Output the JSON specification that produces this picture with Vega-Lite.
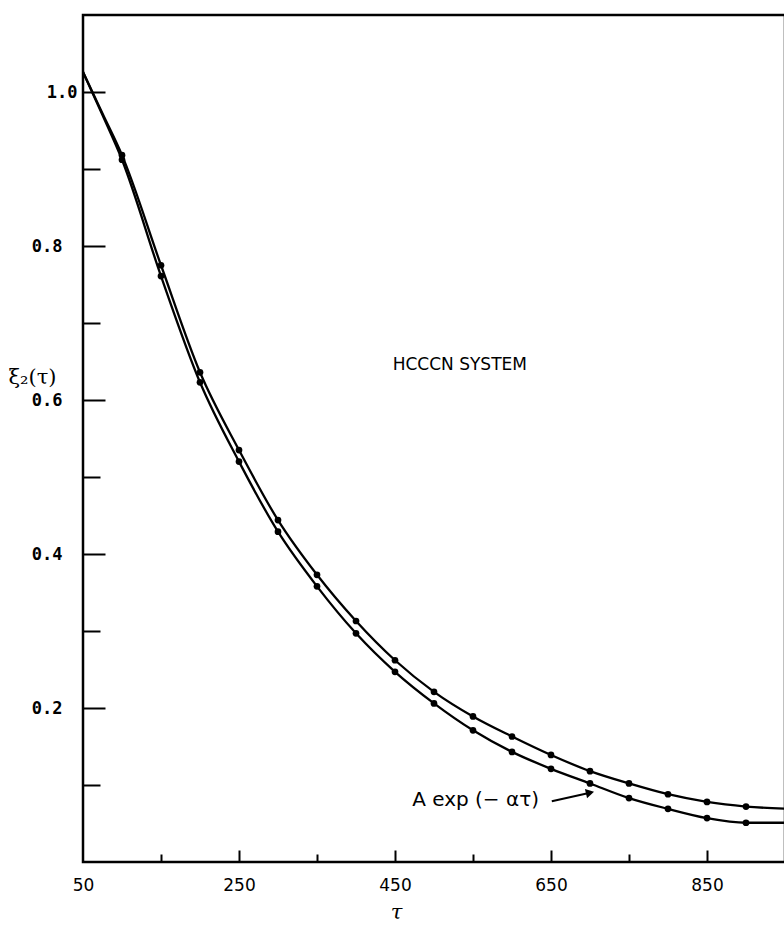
{
  "$schema": "https://vega.github.io/schema/vega-lite/v6.json",
  "width": 702,
  "height": 847,
  "autosize": {"type": "none"},
  "padding": {"left": 83, "top": 15, "right": 0, "bottom": 63},
  "background": "white",
  "config": {
    "view": {"stroke": "black", "strokeWidth": 2.5},
    "axis": {"grid": false, "domain": false, "tickColor": "black", "labelColor": "black", "titleColor": "black", "tickWidth": 2}
  },
  "datasets": {
    "curves": [
      {"series": "upper", "tau": 50, "value": 1.026},
      {"series": "upper", "tau": 75, "value": 0.972},
      {"series": "upper", "tau": 100, "value": 0.918},
      {"series": "upper", "tau": 150, "value": 0.775},
      {"series": "upper", "tau": 200, "value": 0.636},
      {"series": "upper", "tau": 250, "value": 0.535},
      {"series": "upper", "tau": 300, "value": 0.444},
      {"series": "upper", "tau": 350, "value": 0.373},
      {"series": "upper", "tau": 400, "value": 0.313},
      {"series": "upper", "tau": 450, "value": 0.262},
      {"series": "upper", "tau": 500, "value": 0.221},
      {"series": "upper", "tau": 550, "value": 0.189},
      {"series": "upper", "tau": 600, "value": 0.163},
      {"series": "upper", "tau": 650, "value": 0.139},
      {"series": "upper", "tau": 700, "value": 0.118},
      {"series": "upper", "tau": 750, "value": 0.102},
      {"series": "upper", "tau": 800, "value": 0.088},
      {"series": "upper", "tau": 850, "value": 0.078},
      {"series": "upper", "tau": 900, "value": 0.072},
      {"series": "upper", "tau": 955, "value": 0.069},
      {"series": "lower", "tau": 50, "value": 1.026},
      {"series": "lower", "tau": 75, "value": 0.970},
      {"series": "lower", "tau": 100, "value": 0.912},
      {"series": "lower", "tau": 150, "value": 0.761},
      {"series": "lower", "tau": 200, "value": 0.623},
      {"series": "lower", "tau": 250, "value": 0.520},
      {"series": "lower", "tau": 300, "value": 0.429},
      {"series": "lower", "tau": 350, "value": 0.358},
      {"series": "lower", "tau": 400, "value": 0.297},
      {"series": "lower", "tau": 450, "value": 0.247},
      {"series": "lower", "tau": 500, "value": 0.206},
      {"series": "lower", "tau": 550, "value": 0.171},
      {"series": "lower", "tau": 600, "value": 0.143},
      {"series": "lower", "tau": 650, "value": 0.121},
      {"series": "lower", "tau": 700, "value": 0.102},
      {"series": "lower", "tau": 750, "value": 0.083},
      {"series": "lower", "tau": 800, "value": 0.069},
      {"series": "lower", "tau": 850, "value": 0.057},
      {"series": "lower", "tau": 900, "value": 0.051},
      {"series": "lower", "tau": 955, "value": 0.051}
    ],
    "notes": [
      {"tau": 447, "value": 0.639, "label": "HCCCN SYSTEM", "size": 17},
      {"tau": 472, "value": 0.073, "label": "A exp (− ατ)", "size": 20}
    ],
    "arrow": [
      {"tau": 651, "value": 0.079, "tau2": 700, "value2": 0.09}
    ]
  },
  "resolve": {"axis": {"x": "independent", "y": "independent"}},
  "layer": [
    {
      "data": {"name": "curves"},
      "mark": {"type": "line", "interpolate": "monotone", "color": "black", "strokeWidth": 2.3, "clip": true},
      "encoding": {
        "x": {
          "field": "tau", "type": "quantitative",
          "scale": {"domain": [50, 950], "nice": false, "zero": false},
          "axis": {
            "orient": "bottom", "values": [50, 250, 450, 650, 850], "ticks": false,
            "labelFont": "DejaVu Sans", "labelFontSize": 17, "labelPadding": 15,
            "labelFlush": false, "labelOverlap": false,
            "title": "τ", "titleFont": "DejaVu Serif", "titleFontStyle": "italic", "titleFontWeight": "normal",
            "titleFontSize": 21, "titleX": 313, "titleY": 56, "titleAlign": "center", "titleBaseline": "alphabetic"
          }
        },
        "y": {
          "field": "value", "type": "quantitative",
          "scale": {"domain": [0, 1.1], "nice": false, "zero": false},
          "axis": {
            "orient": "left", "values": [0.2, 0.4, 0.6, 0.8], "format": ".1f", "ticks": false,
            "labelFont": "DejaVu Sans Mono", "labelFontWeight": "bold", "labelFontSize": 17, "labelPadding": 21,
            "title": "ξ₂(τ)", "titleAngle": 0, "titleX": -75, "titleY": 362, "titleAlign": "left", "titleBaseline": "middle",
            "titleFont": "DejaVu Serif", "titleFontWeight": "normal", "titleFontSize": 21
          }
        },
        "detail": {"field": "series"}
      }
    },
    {
      "data": {"name": "curves"},
      "transform": [{"filter": "datum.tau >= 100 && datum.tau <= 900"}],
      "mark": {"type": "point", "filled": true, "color": "black", "size": 45, "opacity": 1},
      "encoding": {
        "x": {"field": "tau", "type": "quantitative",
          "axis": {"orient": "bottom", "values": [250, 450, 650, 850], "labels": false, "tickSize": -12, "title": null}},
        "y": {"field": "value", "type": "quantitative",
          "axis": {"orient": "left", "values": [0.2, 0.4, 0.6, 0.8, 1.0], "labels": false, "tickSize": -22, "title": null}}
      }
    },
    {
      "data": {"name": "notes"},
      "mark": {"type": "text", "align": "left", "baseline": "alphabetic", "font": "DejaVu Sans", "color": "black"},
      "encoding": {
        "x": {"field": "tau", "type": "quantitative",
          "axis": {"orient": "bottom", "values": [150, 350, 550, 750, 950], "labels": false, "tickSize": -8, "title": null}},
        "y": {"field": "value", "type": "quantitative",
          "axis": {"orient": "left", "values": [0.1, 0.3, 0.5, 0.7, 0.9], "labels": false, "tickSize": -17, "title": null}},
        "text": {"field": "label"},
        "size": {"field": "size", "type": "quantitative", "scale": null, "legend": null}
      }
    },
    {
      "data": {"name": "arrow"},
      "mark": {"type": "rule", "color": "black", "strokeWidth": 2},
      "encoding": {
        "x": {"field": "tau", "type": "quantitative", "axis": null},
        "y": {"field": "value", "type": "quantitative",
          "axis": {"orient": "left", "values": [1.0], "format": ".1f", "ticks": false,
            "labelFont": "DejaVu Sans Mono", "labelFontWeight": "bold", "labelFontSize": 17, "labelPadding": 6, "title": null}},
        "x2": {"field": "tau2"},
        "y2": {"field": "value2"}
      }
    },
    {
      "data": {"name": "arrow"},
      "mark": {"type": "point", "shape": "triangle-right", "filled": true, "color": "black", "size": 90, "angle": -13, "opacity": 1},
      "encoding": {
        "x": {"field": "tau2", "type": "quantitative", "axis": null},
        "y": {"field": "value2", "type": "quantitative", "axis": null}
      }
    }
  ]
}
